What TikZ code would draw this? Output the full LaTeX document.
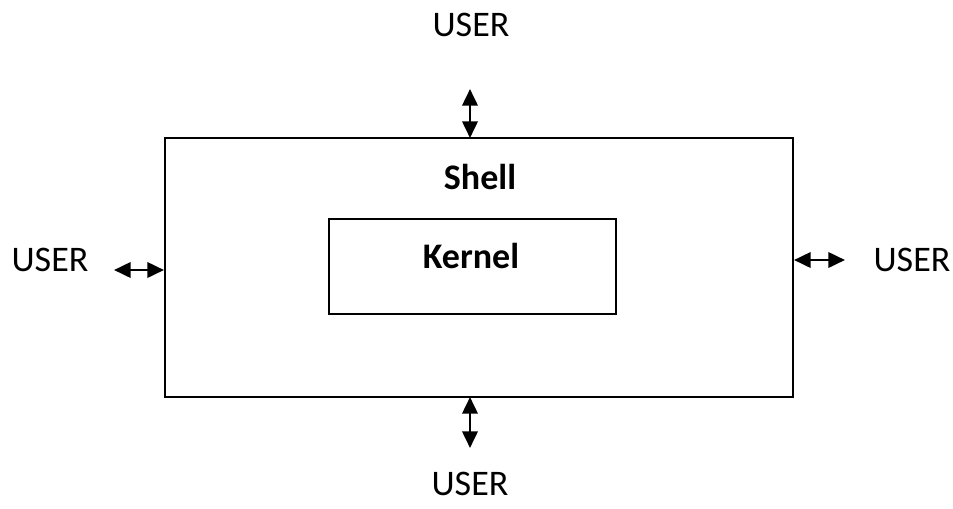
\documentclass[tikz,border=0pt]{standalone}
\usepackage{fontspec}
\setmainfont{Carlito}
\usetikzlibrary{arrows.meta}
\begin{document}
\begin{tikzpicture}[x=0.75pt,y=-0.75pt,
  box/.style={draw=black,line width=1.6pt},
  link/.style={line width=2pt,{Triangle[length=12.5pt,width=11.5pt]}-{Triangle[length=12.5pt,width=11.5pt]}},
  lbl/.style={font=\fontsize{27}{32}\selectfont,inner sep=0pt,anchor=center},
  blbl/.style={font=\fontsize{27}{32}\selectfont\bfseries,inner sep=0pt,anchor=center}]
\useasboundingbox (0,0) rectangle (953,508);
% outer shell and inner kernel boxes
\draw[box] (165,138) rectangle (793,397);
\coordinate (shT) at (470,138);
\coordinate (shB) at (470,397);
\coordinate (shL) at (164,270);
\coordinate (shR) at (794,260);
\draw[box,line width=1.3pt] (329,219) rectangle (616,314);
\node[blbl] (shell) at (480,177) {Shell};
\node[blbl] (kernel) at (471,256) {Kernel};
% users around the shell
\node[lbl] (uT) at (471,25) {USER};
\node[lbl] (uB) at (470,484) {USER};
\node[lbl] (uL) at (50,260) {USER};
\node[lbl] (uR) at (912,260) {USER};
\coordinate (aT) at (470,89);
\coordinate (aB) at (470,448);
\coordinate (aL) at (114,270);
\coordinate (aR) at (845,260);
\draw[link] (aT) -- (shT);
\draw[link] (shB) -- (aB);
\draw[link] (aL) -- (shL);
\draw[link] (shR) -- (aR);
\end{tikzpicture}
\end{document}
